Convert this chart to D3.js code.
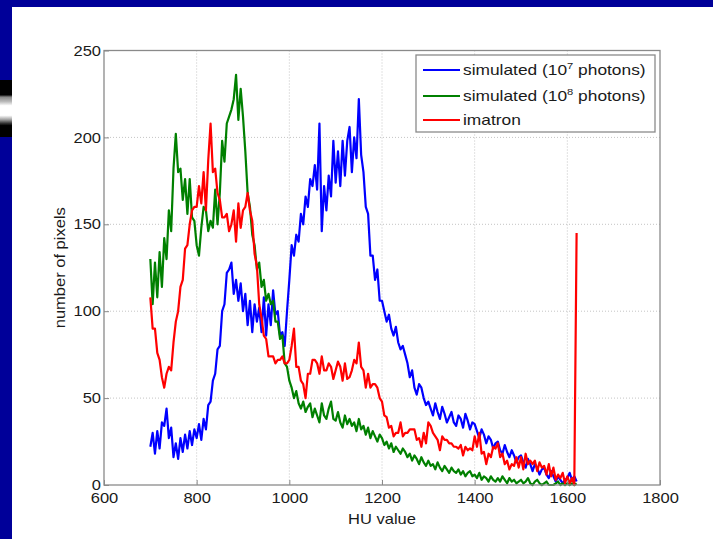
<!DOCTYPE html>
<html><head><meta charset="utf-8">
<script src="https://cdn.jsdelivr.net/npm/d3@7"></script>
<style>
html,body{margin:0;padding:0;background:#fff;}
svg{display:block;}
text{font-family:"Liberation Sans",Arial,Helvetica,sans-serif;fill:#1a1a1a;}
</style></head><body>
<svg id="c" width="713" height="539"></svg>
<script>
// HU bins, 5 HU apart, 700..1620
const huValues = d3.range(700, 1621, 5);
const xTicks = [600, 800, 1000, 1200, 1400, 1600, 1800];
const yTicks = [0, 50, 100, 150, 200, 250];
const seriesNames = ["simulated (10^7 photons)", "simulated (10^8 photons)", "imatron"];

const blue = [
22,30,18,31,21,36,34,44,27,33,
16,24,15,27,19,29,21,31,23,32,
27,35,26,38,32,46,48,60,64,78,
80,100,104,122,124,128,110,118,106,116,
100,110,92,106,88,104,94,102,88,108,
86,104,92,112,98,100,86,88,80,100,
118,138,132,144,140,156,150,166,160,176,
172,184,170,208,146,172,158,178,166,198,
174,192,172,198,178,198,206,180,200,188,
222,190,180,160,156,132,132,118,124,106,
106,100,94,98,90,86,91,82,78,80,
75,70,62,66,56,52,58,56,50,46,
48,44,40,47,42,38,45,41,36,39,
42,36,34,40,38,33,41,37,32,36,
35,31,27,32,29,24,28,26,21,24,
25,20,18,23,19,16,20,17,13,16,
17,13,10,15,12,8,12,10,6,9,
10,6,4,8,5,2,5,3,1,3,
4,7,3,5,2];

const green = [
130,104,128,108,134,114,142,130,158,146,
182,202,180,182,164,176,156,176,154,152,
138,132,148,160,158,146,152,148,170,150,
168,198,186,208,212,216,222,236,210,228,
212,192,168,160,144,138,124,128,114,118,
106,110,104,106,94,94,84,86,70,68,
60,56,50,54,47,44,48,42,45,47,
39,44,40,36,47,40,38,44,48,38,
37,42,36,33,40,35,38,34,36,31,
38,32,34,29,33,27,31,28,25,29,
27,23,25,21,24,19,22,20,18,21,
19,16,18,14,17,15,12,16,13,11,
14,11,12,9,13,10,8,11,9,7,
10,8,7,9,6,8,5,7,8,5,
6,4,7,3,5,4,2,5,3,2,
4,2,5,3,1,4,2,3,1,2,
3,1,2,4,1,0,2,3,1,0,
1,2,0,0,0,1,2,0,1,0,
1,0,1,0,1];

const red = [
108,90,90,76,72,62,56,64,68,66,
82,94,100,114,118,136,138,150,158,160,
160,172,162,180,158,187,208,180,182,168,
164,154,154,156,146,150,158,140,162,148,
158,160,168,158,152,133,126,104,96,86,
84,74,74,74,70,72,72,74,70,70,
72,80,90,68,68,60,58,50,64,64,
72,72,70,64,74,66,66,70,68,61,
66,71,68,60,70,61,62,66,72,70,
82,68,66,56,64,56,58,58,56,50,
48,40,39,33,34,28,30,30,36,28,
30,30,32,32,32,26,27,22,30,24,
36,34,30,28,26,20,28,26,26,24,
24,22,22,21,23,17,22,20,21,20,
28,22,30,18,19,12,18,16,22,21,
24,16,18,12,14,9,12,11,16,10,
16,9,18,12,14,12,14,8,13,10,
11,6,12,5,10,3,6,4,7,1,
5,1,4,0,145];

const colors = ["#0000ff", "#008000", "#ff0000"];

const svg = d3.select("#c");

// slide frame
svg.append("rect").attr("x",0).attr("y",0).attr("width",713).attr("height",7).attr("fill","#000099");
svg.append("rect").attr("x",0).attr("y",0).attr("width",12).attr("height",539).attr("fill","#000099");
const grad = svg.append("defs").append("linearGradient").attr("id","strip").attr("x1",0).attr("y1",0).attr("x2",0).attr("y2",1);
[[0,"#000"],[0.26,"#000"],[0.3,"#888"],[0.38,"#bbb"],[0.45,"#fff"],[0.62,"#fff"],[0.7,"#999"],[0.76,"#333"],[0.8,"#000"],[1,"#000"]]
  .forEach(([o,c])=>grad.append("stop").attr("offset",o).attr("stop-color",c));
svg.append("rect").attr("x",0).attr("y",80).attr("width",12).attr("height",57).attr("fill","url(#strip)");

const L = 104, R = 660, T = 50.5, B = 485;
const x = d3.scaleLinear().domain([600, 1800]).range([L, R]);
const y = d3.scaleLinear().domain([0, 250]).range([B, T]);
const SX = 1.18;

// gridlines
const g = svg.append("g");
g.selectAll("line.vg").data(xTicks.slice(1,-1)).enter().append("line")
  .attr("x1",d=>x(d)).attr("x2",d=>x(d)).attr("y1",T).attr("y2",B)
  .attr("stroke","#c4c4c4").attr("stroke-width",1).attr("stroke-dasharray","1,2");
g.selectAll("line.hg").data(yTicks.slice(1,-1)).enter().append("line")
  .attr("x1",L).attr("x2",R).attr("y1",d=>y(d)).attr("y2",d=>y(d))
  .attr("stroke","#c4c4c4").attr("stroke-width",1).attr("stroke-dasharray","1,2");

// series
const line = d3.line().x((d,i)=>x(huValues[i])).y(d=>y(d));
[blue, green, red].forEach((s,k)=>{
  svg.append("path").datum(s).attr("d",line).attr("fill","none")
    .attr("stroke",colors[k]).attr("stroke-width",2.2).attr("stroke-linejoin","round");
});

// axes box
svg.append("rect").attr("x",L).attr("y",T).attr("width",R-L).attr("height",B-T)
  .attr("fill","none").attr("stroke","#8a8a8a").attr("stroke-width",1.3);

const xAxis = svg.append("g").attr("transform",`translate(0,${B})`)
  .call(d3.axisBottom(x).tickValues(xTicks).tickSize(-5).tickPadding(14).tickFormat(d3.format("d")));
const yAxis = svg.append("g").attr("transform",`translate(${L},0)`)
  .call(d3.axisLeft(y).tickValues(yTicks).tickSize(-5).tickPadding(3).tickFormat(d3.format("d")));
[xAxis, yAxis].forEach(a=>{
  a.select(".domain").remove();
  a.selectAll(".tick line").attr("stroke","#8a8a8a");
  a.selectAll(".tick text").attr("font-size",14).attr("fill","#1a1a1a")
    .attr("font-family","Liberation Sans, Arial, sans-serif");
});
xAxis.selectAll(".tick text").attr("transform",`scale(${SX},1)`).attr("y",8);
yAxis.selectAll(".tick text").attr("transform",`scale(${SX},1)`).attr("x",-3/SX).attr("dy","0.33em");

// axis labels
svg.append("text").attr("transform",`translate(${(L+R)/2},524) scale(${SX},1)`)
  .attr("text-anchor","middle").attr("font-size",14).text("HU value");
svg.append("text").attr("transform",`translate(65,${(T+B)/2}) rotate(-90) scale(${SX},1)`)
  .attr("text-anchor","middle").attr("font-size",14).text("number of pixels");

// legend
const LSX = 1.24;
const lg = svg.append("g");
lg.append("rect").attr("x",416).attr("y",55).attr("width",239).attr("height",77)
  .attr("fill","#fff").attr("stroke","#8a8a8a").attr("stroke-width",1.3);
const rowsY = [70, 96, 120];
seriesNames.forEach((nm,i)=>{
  lg.append("line").attr("x1",423).attr("x2",460).attr("y1",rowsY[i]).attr("y2",rowsY[i])
    .attr("stroke",colors[i]).attr("stroke-width",2.2);
  const t = lg.append("text").attr("transform",`translate(463,${rowsY[i]+5}) scale(${LSX},1)`).attr("font-size",14);
  const m = nm.match(/^(.*\(10)\^(\d)(.*)$/);
  if (m) {
    t.append("tspan").text(m[1]);
    t.append("tspan").attr("font-size",9).attr("dy",-6).text(m[2]);
    t.append("tspan").attr("dy",6).text(m[3]);
  } else t.text(nm);
});
</script>
</body></html>
